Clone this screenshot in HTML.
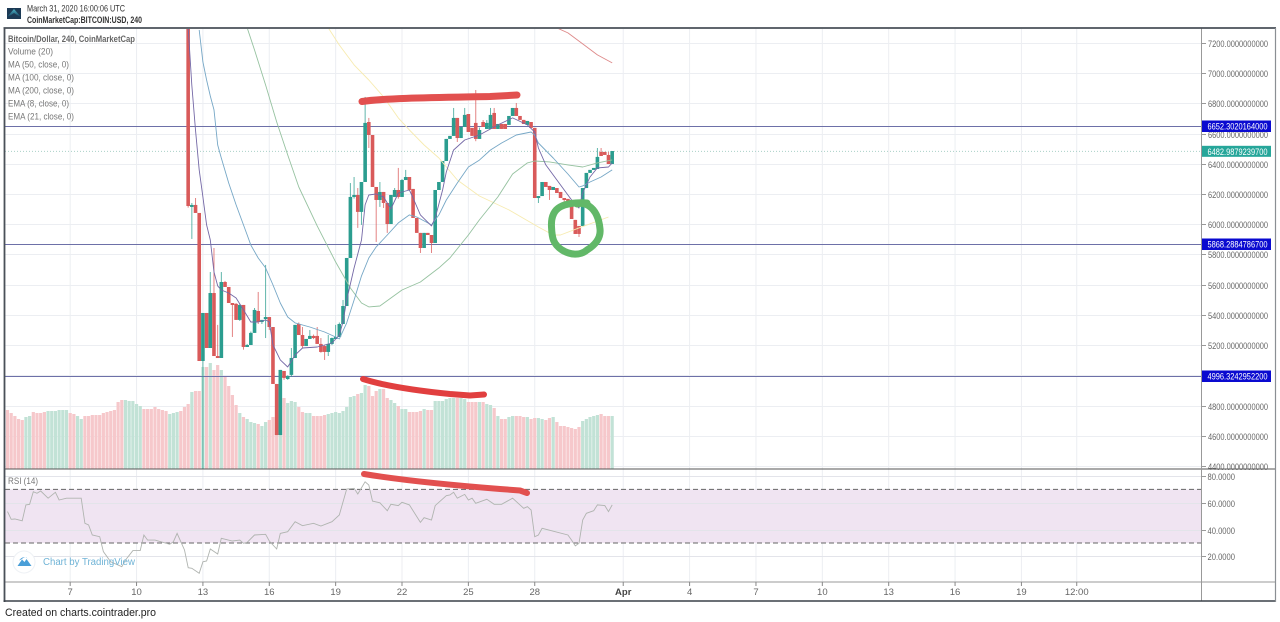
<!DOCTYPE html>
<html lang="en">
<head>
<meta charset="utf-8">
<title>Bitcoin/Dollar 240 chart</title>
<style>
  html, body { margin: 0; padding: 0; background: #fff; }
  body { width: 1280px; height: 622px; overflow: hidden; }
  svg { display: block; font-family: "Liberation Sans", sans-serif; }
</style>
</head>
<body>
<svg id="chart" xmlns="http://www.w3.org/2000/svg" width="1280" height="622" viewBox="0 0 1280 622">
  <defs>
    <clipPath id="price-clip"><rect x="5" y="29" width="1196.5" height="440"/></clipPath>
    <clipPath id="rsi-clip"><rect x="5" y="470" width="1196.5" height="112"/></clipPath>
    <linearGradient id="logo-grad" x1="0" y1="0" x2="0" y2="1"><stop offset="0" stop-color="#4fb6c9"/><stop offset="1" stop-color="#12405f"/></linearGradient>
  </defs>
  <rect x="0" y="0" width="1280" height="622" fill="#ffffff"/>

  <g>
    <g>
      <rect x="7" y="8" width="14" height="11" fill="#1c3a55"/>
      <polygon points="7,17 14,9 21,17 17,15 14,13 11,15" fill="url(#logo-grad)"/>
    </g>
    <text x="27" y="11.5" font-size="9.5" fill="#333" textLength="98" lengthAdjust="spacingAndGlyphs">March 31, 2020 16:00:06 UTC</text>
    <text x="27" y="23" font-size="9.5" font-weight="bold" fill="#333" textLength="115" lengthAdjust="spacingAndGlyphs">CoinMarketCap:BITCOIN:USD, 240</text>
  </g>

  <g id="grid"></g>
  <rect x="5" y="489.4" width="1196.5" height="53.6" fill="#f0e4f2"/>
  <g id="rsi-grid"></g>
  <g id="volume" clip-path="url(#price-clip)"></g>
  <g id="levels"></g>
  <g id="candles" clip-path="url(#price-clip)"></g>
  <g id="averages" clip-path="url(#price-clip)"></g>

  <line x1="5" x2="1201" y1="489.4" y2="489.4" stroke="#666" stroke-dasharray="5 3"/>
  <line x1="5" x2="1201" y1="543" y2="543" stroke="#666" stroke-dasharray="5 3"/>
  <g id="rsi" clip-path="url(#rsi-clip)"></g>

  <g fill="none">
    <line x1="4" x2="1275" y1="469" y2="469" stroke="#555"/>
    <line x1="4" x2="1275" y1="582" y2="582" stroke="#999"/>
    <line x1="1201.5" x2="1201.5" y1="28" y2="601" stroke="#999"/>
    <line x1="3.5" x2="1276" y1="28" y2="28" stroke="#4a5058" stroke-width="1.8"/>
    <line x1="4.5" x2="4.5" y1="28" y2="602" stroke="#4a5058" stroke-width="1.8"/>
    <line x1="3.5" x2="1276" y1="601" y2="601" stroke="#3a4048" stroke-width="1.5"/>
    <line x1="1275.5" x2="1275.5" y1="28" y2="602" stroke="#8b8f94" stroke-width="1.2"/>
  </g>

  <g id="price-axis"></g>
  <g id="rsi-axis"></g>
  <g id="time-axis"></g>
  <g id="tags"></g>

  <g font-size="9.5" fill="#777">
    <text x="8" y="42" font-weight="bold" fill="#666" textLength="127" lengthAdjust="spacingAndGlyphs">Bitcoin/Dollar, 240, CoinMarketCap</text>
    <text x="8" y="54.5" textLength="45" lengthAdjust="spacingAndGlyphs">Volume (20)</text>
    <text x="8" y="67.5" textLength="61" lengthAdjust="spacingAndGlyphs">MA (50, close, 0)</text>
    <text x="8" y="80.5" textLength="66" lengthAdjust="spacingAndGlyphs">MA (100, close, 0)</text>
    <text x="8" y="93.5" textLength="66" lengthAdjust="spacingAndGlyphs">MA (200, close, 0)</text>
    <text x="8" y="106.5" textLength="61" lengthAdjust="spacingAndGlyphs">EMA (8, close, 0)</text>
    <text x="8" y="119.5" textLength="66" lengthAdjust="spacingAndGlyphs">EMA (21, close, 0)</text>
    <text x="8" y="484" textLength="30" lengthAdjust="spacingAndGlyphs">RSI (14)</text>
  </g>

  <g>
    <circle cx="24" cy="562" r="11" fill="#ffffff" stroke="#eef1f5"/>
    <path d="M17.5 566 L22 559.5 L24.5 562 L26.5 559 L31.5 566 Z M19 560.5 Q24 554 29 560 L26.5 557.5 Q24 556.5 22 559 Z" fill="#4a9fd8"/>
    <text x="43" y="565" font-size="10" fill="#6fb3d6" textLength="92" lengthAdjust="spacingAndGlyphs">Chart by TradingView</text>
  </g>

  <g fill="none" stroke-linecap="round" stroke-linejoin="round">
    <path d="M362 101.5 C385 98,440 97.5,490 96.5 L517 95" stroke="#e2504f" stroke-width="7"/>
    <path d="M363 379 C385 386,420 391,450 394 L470 395.5 L484 394.5" stroke="#e13f3f" stroke-width="6"/>
    <path d="M364 474 C400 480,450 485,500 489 L520 490.5 L527 493" stroke="#e2504f" stroke-width="6"/>
    <path d="M587 203 C575 202,565 204,560 207 C553 211,551 218,551.5 227 C552 238,553 244,562 250 C570 255,580 256,587 250 C595 245,601 238,600 229 C599 218,595 210,589 206 C585 203,580 203,577 204" stroke="#62b868" stroke-width="7"/>
  </g>

  <text x="5" y="616" font-size="11" fill="#222" textLength="151" lengthAdjust="spacingAndGlyphs">Created on charts.cointrader.pro</text>
</svg>

<script>
const priceTicks = [7200, 7000, 6800, 6600, 6400, 6200, 6000, 5800, 5600, 5400, 5200, 5000, 4800, 4600, 4400];
const rsiTicks = [80, 60, 40, 20];
const timeTickBars = [17, 35, 53, 71, 89, 107, 125, 143, 167, 185, 203, 221, 239, 257, 275, 290];
const timeTickLabels = ['7', '10', '13', '16', '19', '22', '25', '28', 'Apr', '4', '7', '10', '13', '16', '19', '12:00'];

const levelPrices = [6652.3020164, 5868.28847867, 4996.32429522];
const levelLabels = ['6652.3020164000', '5868.2884786700', '4996.3242952200'];
const lastPrice = 6482.98792397;
const lastPriceLabel = '6482.9879239700';

const firstCandleBar = 49;
const opens = [7950,6121,6128,6075,5095,5413,5181,5545,5128,5115,5618,5585,5479,5473,5367,5466,5188,5201,5281,5426,5353,5373,5386,5320,4943,4605,5029,4976,5003,5115,5340,5267,5194,5241,5261,5261,5208,5194,5155,5208,5247,5254,5340,5459,5777,6181,6194,6082,6280,6677,6591,6247,6161,6214,6141,6002,6181,6227,6181,6293,6313,6234,6042,5943,5843,5943,5929,5876,6227,6280,6419,6565,6585,6704,6571,6644,6730,6638,6671,6565,6677,6631,6631,6737,6631,6664,6664,6658,6717,6770,6717,6691,6658,6677,6638,6174,6187,6280,6254,6227,6240,6214,6174,6168,6161,6029,5989,5989,6240,6340,6360,6366,6479,6479,6459,6399];
const highs = [7950,6141,6174,6075,5413,5413,5684,5843,5334,5684,5625,5585,5479,5479,5473,5466,5208,5290,5446,5552,5367,5731,5386,5320,4943,5036,5029,5000,5181,5334,5350,5320,5241,5300,5270,5320,5247,5200,5267,5250,5334,5350,5499,5777,6273,6313,6240,6280,6843,6704,6591,6247,6280,6214,6141,6194,6240,6373,6300,6360,6313,6234,6042,5943,5943,5943,5929,6227,6280,6419,6565,6585,6770,6704,6644,6770,6730,6638,6889,6640,6690,6690,6770,6770,6664,6664,6664,6717,6770,6803,6717,6691,6684,6677,6638,6187,6280,6280,6254,6247,6240,6214,6174,6168,6161,6029,5989,6240,6340,6360,6373,6505,6505,6479,6479,6485];
const lows = [6110,5903,6075,5095,4380,5181,5181,5128,5115,5115,5585,5479,5254,5367,5360,5170,5188,5201,5281,5340,5340,5247,5300,4943,4605,4605,4970,4970,4989,5115,5267,5180,5194,5241,5240,5208,5150,5102,5128,5200,5240,5254,5340,5459,5777,6170,5976,5996,6280,6505,6247,5883,6115,6108,5943,6002,6181,6170,6181,6293,6227,6042,5943,5810,5843,5929,5810,5876,6227,6280,6419,6565,6585,6545,6571,6644,6611,6585,6550,6565,6644,6631,6631,6631,6631,6631,6631,6658,6717,6717,6691,6664,6658,6638,6174,6141,6187,6247,6161,6227,6207,6174,6128,6154,6035,5936,5916,5989,6240,6340,6360,6366,6452,6459,6399,6399];
const closes = [6121,6128,6075,5095,5413,5181,5545,5128,5115,5618,5585,5479,5473,5367,5466,5188,5201,5281,5433,5353,5367,5386,5320,4943,4605,5036,4983,4996,5115,5334,5267,5194,5241,5261,5247,5208,5155,5155,5208,5247,5254,5340,5459,5777,6181,6194,6082,6280,6671,6591,6247,6161,6214,6141,6002,6194,6227,6181,6293,6313,6227,6042,5943,5843,5943,5929,5876,6227,6280,6419,6565,6585,6704,6571,6644,6724,6611,6585,6565,6624,6644,6671,6724,6631,6664,6631,6631,6717,6770,6717,6691,6664,6684,6638,6174,6187,6280,6247,6227,6247,6207,6174,6161,6154,6035,5936,5936,6240,6340,6360,6373,6446,6452,6459,6399,6485];

const volumes = [59,56,53,50,49,52,53,57,56,56,57,58,58,58,59,59,59,56,55,53,50,53,53,54,54,54,56,57,58,59,67,69,69,68,68,65,63,60,60,60,62,60,59,58,55,56,57,58,62,65,77,78,78,102,102,106,99,104,99,92,83,74,64,56,52,50,47,46,45,43,47,49,52,55,60,71,66,68,67,62,57,56,56,53,53,53,54,55,56,57,56,58,62,72,73,75,76,84,83,73,78,80,80,71,69,66,63,60,60,57,57,57,58,60,59,59,68,68,68,70,71,71,71,71,70,67,67,67,67,67,65,64,61,53,50,50,52,53,53,53,52,52,50,51,51,50,49,51,52,47,43,43,42,41,40,42,48,50,52,53,54,55,53,53,53];
const earlyVolumeUp = [0,0,0,0,0,1,1,0,0,0,0,1,1,1,1,1,1,0,0,1,1,0,0,0,0,0,0,0,0,0,0,0,1,1,1,1,1,0,0,0,0,0,0,0,1,1,1,0,0];

const ema8Bars = [49,50,51,52,53,54,55,56,57,58,60,62,64,66,68,70,71,72,74,76,78,80,84,88,90,91,92,94,96,97,98,100,102,104,106,109,110,112,115,116,118,119,121,124,128,133,137,141,143,144,146,149,152,154,155,156,158,160,163,164];
const ema8Values = [7300,6922,6624,6360,6181,5996,5896,5684,5592,5565,5545,5512,5433,5353,5353,5367,5353,5201,5102,5055,5135,5181,5188,5214,5267,5353,5499,5711,5896,6128,6194,6201,6181,6101,6207,6227,6174,6062,5989,6042,6227,6346,6492,6558,6591,6658,6704,6658,6611,6505,6393,6293,6194,6128,6108,6207,6313,6373,6379,6406];

const ema21Bars = [52,53,54,55,56,57,58,60,62,65,66,68,70,72,74,76,78,82,86,89,90,92,94,96,98,100,103,106,109,111,115,117,119,122,125,128,131,134,138,142,143,144,148,152,155,156,158,161,164];
const ema21Values = [7286,7075,6955,6849,6757,6525,6439,6273,6128,5929,5863,5777,5711,5598,5479,5386,5347,5320,5287,5254,5241,5347,5499,5658,5777,5850,5929,6009,6062,6048,5996,6062,6161,6273,6379,6425,6492,6538,6591,6611,6591,6538,6439,6333,6247,6254,6280,6313,6360];

const ma50Bars = [65,67,70,73,76,79,84,89,93,96,98,101,104,107,112,117,120,125,128,133,137,141,143,147,152,156,160,164];
const ma50Values = [7300,7154,6922,6677,6459,6247,5989,5751,5578,5479,5453,5459,5512,5565,5618,5711,5777,5929,6029,6181,6333,6406,6419,6413,6393,6379,6406,6426];

const ma100Bars = [87,90,94,98,102,106,109,113,117,122,128,136,144,148,150,155,163];
const ma100Values = [7300,7187,7055,6955,6843,6704,6624,6525,6439,6293,6187,6095,5982,5929,5929,5976,6048];

const ma200Bars = [149,152,156,160,164];
const ma200Values = [7300,7267,7194,7121,7068];

const rsiBars = [0,1,2,4,5,6,7,8,9,11,13,14,16,20,21,22,23,25,26,28,31,32,34,36,37,38,40,44,45,46,48,49,50,52,53,54,55,57,58,61,63,64,65,67,70,71,73,74,76,78,80,83,85,88,90,92,94,95,97,98,99,101,103,104,106,107,109,112,113,115,116,119,120,121,122,124,125,126,127,130,132,134,137,139,140,141,142,143,144,145,152,153,154,155,156,157,159,160,162,163,164];
const rsiValues = [53.4,47.7,47.9,46.6,58.4,58.9,68.3,67.1,68.8,63.4,67.8,62.1,63.4,63.4,44.7,43.4,36,34.7,23.5,16,12.3,17.3,24.3,24.3,36,32.2,32.2,29,31,37.2,24.8,11.6,11.1,7.4,16,16.6,25.5,21.8,33.5,31.5,32.2,29.8,30.5,36,36.5,31.5,25.5,37.2,38.4,45.9,42.9,44.7,42.7,45.9,50.9,70.3,70.8,66.6,75.7,73.3,61.3,60,54.1,58.9,57.9,60.4,58.4,45.4,48.9,47.2,57.9,65.3,65.8,67.8,63.4,66.3,62.1,63.4,59.6,62.6,58.9,58.9,63.4,58.4,55.9,57.1,54.6,34.7,36,41,36,32.2,27.8,29.8,47.2,52.2,54.1,58.4,57.9,53.4,58.4];

const SVG_NS = 'http://www.w3.org/2000/svg';
const barX = (bar) => 7.5 + bar * 3.687;
const priceY = (price) => 43 + (7200 - price) * 0.15107;
const rsiY = (value) => 476 + (80 - value) * 1.34;
const volumeY = (volume) => 469 - volume;
const make = (tag, parentId) => {
  const el = document.createElementNS(SVG_NS, tag);
  document.getElementById(parentId).appendChild(el);
  return el;
};
const fitText = (el, x, y, size, fill, length, content) => {
  el.setAttribute('x', x);
  el.setAttribute('y', y);
  el.setAttribute('font-size', size);
  el.setAttribute('fill', fill);
  if (length) {
    el.setAttribute('textLength', length);
    el.setAttribute('lengthAdjust', 'spacingAndGlyphs');
  }
  el.textContent = content;
};
const rule = (el, x1, y1, x2, y2, stroke) => {
  el.setAttribute('x1', x1);
  el.setAttribute('y1', y1);
  el.setAttribute('x2', x2);
  el.setAttribute('y2', y2);
  el.setAttribute('stroke', stroke);
};

priceTicks.forEach((tick) => {
  const y = Math.round(priceY(tick)) + 0.5;
  const gridLine = make('line', 'grid');
  rule(gridLine, 5, y, 1201, y, '#eceef2');
  
  
  const tickMark = make('line', 'price-axis');
  rule(tickMark, 1202, y, 1206, y, '#999');
  
  
  const label = make('text', 'price-axis');
  fitText(label, 1208, y + 3.5, 9.5, '#666', 60, tick.toFixed(10));
  
  
});

timeTickBars.forEach((bar, i) => {
  const x = barX(bar);
  const gridLine = make('line', 'grid');
  rule(gridLine, x, 29, x, 582, '#eceef2');
  
  
  const tickMark = make('line', 'time-axis');
  rule(tickMark, x, 582, x, 586, '#888');
  
  
  const label = make('text', 'time-axis');
  const isMonth = timeTickLabels[i] === 'Apr';
  fitText(label, x, 595, 9.5, isMonth ? '#444' : '#666', 0, timeTickLabels[i]);
  label.setAttribute('text-anchor', 'middle');
  if (isMonth) label.setAttribute('font-weight', 'bold');
  
  
});

rsiTicks.forEach((tick) => {
  const y = Math.round(rsiY(tick)) + 0.5;
  const gridLine = make('line', 'rsi-grid');
  rule(gridLine, 5, y, 1201, y, '#e3e4ea');
  
  
  const tickMark = make('line', 'rsi-axis');
  rule(tickMark, 1202, y, 1206, y, '#999');
  
  
  const label = make('text', 'rsi-axis');
  fitText(label, 1207.5, y + 3.5, 9.5, '#666', 27.5, tick.toFixed(4));
  
  
});

volumes.forEach((volume, bar) => {
  const candleIndex = bar - firstCandleBar;
  const up = candleIndex >= 0 ? closes[candleIndex] >= opens[candleIndex] : earlyVolumeUp[bar] === 1;
  const el = make('rect', 'volume');
  el.setAttribute('x', barX(bar) - 1.6);
  el.setAttribute('y', volumeY(volume));
  el.setAttribute('width', 3.2);
  el.setAttribute('height', 469 - volumeY(volume));
  el.setAttribute('fill', up ? '#c2e2d6' : '#f6c8cb');
  
  
});

levelPrices.forEach((price, i) => {
  const y = Math.round(priceY(price)) + 0.5;
  const levelLine = make('line', 'levels');
  rule(levelLine, 5, y, 1201, y, '#6d70a8');
  
  
  const tag = make('rect', 'tags');
  tag.setAttribute('x', 1202);
  tag.setAttribute('y', y - 6);
  tag.setAttribute('width', 69);
  tag.setAttribute('height', 11.5);
  tag.setAttribute('fill', '#0a0ad0');
  
  
  const label = make('text', 'tags');
  fitText(label, 1207.5, y + 3, 9.5, '#ffffff', 60, levelLabels[i]);
  
  
});

const lastY = priceY(lastPrice);
const lastLine = make('line', 'levels');
rule(lastLine, 5, lastY, 1201, lastY, '#a9d0c8');
lastLine.setAttribute('stroke-dasharray', '1 2');


const lastTag = make('rect', 'tags');
lastTag.setAttribute('x', 1202);
lastTag.setAttribute('y', lastY - 5.5);
lastTag.setAttribute('width', 69);
lastTag.setAttribute('height', 11);
lastTag.setAttribute('fill', '#26a69a');


const lastLabel = make('text', 'tags');
fitText(lastLabel, 1207.5, lastY + 3.5, 9.5, '#ffffff', 60, lastPriceLabel);



opens.forEach((open, i) => {
  const bar = firstCandleBar + i;
  const x = barX(bar);
  const close = closes[i];
  const color = close >= open ? '#2b9d8f' : '#d95a5a';
  const wick = make('line', 'candles');
  rule(wick, x, priceY(highs[i]), x, priceY(lows[i]), color);
  wick.setAttribute('stroke-opacity', '0.75');
  
  
  const top = priceY(Math.max(open, close));
  const body = make('rect', 'candles');
  body.setAttribute('x', x - 1.8);
  body.setAttribute('y', top);
  body.setAttribute('width', 3.6);
  body.setAttribute('height', Math.max(2, priceY(Math.min(open, close)) - top));
  body.setAttribute('fill', color);
  
  
});

const drawSeries = (bars, values, color, name) => {
  const el = make('path', 'averages');
  el.setAttribute('d', bars.map((bar, i) => (i ? 'L' : 'M') + barX(bar).toFixed(1) + ' ' + priceY(values[i]).toFixed(1)).join(' '));
  el.setAttribute('fill', 'none');
  el.setAttribute('stroke', color);
  el.setAttribute('stroke-width', 0.9);
  el.setAttribute('stroke-linejoin', 'round');
  
  
};
drawSeries(ma100Bars, ma100Values, '#f7ebb0', 'ma-100-line');
drawSeries(ma200Bars, ma200Values, '#de8a8a', 'ma-200-line');
drawSeries(ma50Bars, ma50Values, '#96c2a0', 'ma-50-line');
drawSeries(ema21Bars, ema21Values, '#76a7c6', 'ema-21-line');
drawSeries(ema8Bars, ema8Values, '#7468a6', 'ema-8-line');

const rsiLine = make('path', 'rsi');
rsiLine.setAttribute('d', rsiBars.map((bar, i) => (i ? 'L' : 'M') + barX(bar).toFixed(1) + ' ' + rsiY(rsiValues[i]).toFixed(1)).join(' '));
rsiLine.setAttribute('fill', 'none');
rsiLine.setAttribute('stroke', '#b0b4b0');
rsiLine.setAttribute('stroke-width', 0.9);


</script>
</body>
</html>
